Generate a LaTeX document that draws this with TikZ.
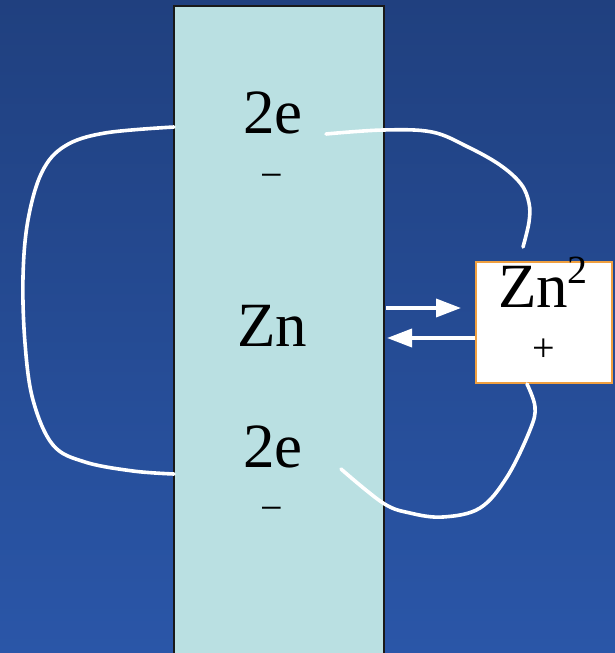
\documentclass[tikz,border=0pt]{standalone}
\usepackage{fontspec}
\setmainfont{Liberation Serif}
\usetikzlibrary{arrows.meta}
\definecolor{bgtop}{HTML}{20407F}
\definecolor{bgbot}{HTML}{2A56A8}
\definecolor{barfill}{HTML}{BAE0E2}
\definecolor{boxline}{HTML}{F0A040}
\tikzset{
  big/.style={inner sep=0pt, text=black, font=\fontsize{63}{70}\selectfont},
  sign/.style={inner sep=0pt, text=black, font=\fontsize{40}{44}\selectfont},
  wire/.style={draw=white, line width=3.6pt, line cap=round},
  flow/.style={draw=white, line width=3.6pt, -{Triangle[length=25pt,width=18pt]}},
}
\begin{document}
\begin{tikzpicture}[x=1pt,y=-1pt]
\shade[top color=bgtop, bottom color=bgbot] (0,0) rectangle (615,653);
\useasboundingbox (0,0) rectangle (615,653);
% zinc bar
\node[draw=black!90, line width=1.5pt, fill=barfill, minimum width=210pt, minimum height=660pt, inner sep=0pt] (bar) at (279,336) {};
% labels in bar
\node[big, anchor=base] (e1) at (273,133) {2e};
\node[sign] (m1) at (272,181) {−};
\node[big, anchor=base] (zn) at (272,346) {Zn};
\node[big, anchor=base] (e2) at (273,467) {2e};
\node[sign] (m2) at (272,514) {−};
% ion box
\node[draw=boxline, line width=1.6pt, fill=white, minimum width=136pt, minimum height=121pt, inner sep=0pt] (ion) at (544,322.5) {};
\node[big, anchor=base] (ionlbl) at (543,307) {Zn\raisebox{24pt}{\fontsize{40}{44}\selectfont 2}};
\node[sign] (plus) at (544,350) {+};
% arrows
\coordinate (a1s) at (386,308);
\coordinate (a1e) at (461,308);
\coordinate (a2s) at (ion.west |- 0,338);
\coordinate (a2e) at (387,338);
\draw[flow] (a1s) -- (a1e);
\draw[flow] (a2s) -- (a2e);
% electron loops
\draw[wire] plot[smooth, tension=0.6] coordinates {(174,127) (105,133) (65,146) (42,172) (28,220) (23,277) (25,343) (33,400) (53,445) (85,462) (133,471) (174,474)};
\draw[wire] plot[smooth, tension=0.6] coordinates {(326,134) (383,130) (432,132) (468,147) (500,165) (521,184) (529,203) (529,222) (523,247)};
\draw[wire] plot[smooth, tension=0.6] coordinates {(527,384) (535,407) (530,430) (507,477) (480,508) (443,517) (410,513) (383,503) (341,469)};
\end{tikzpicture}
\end{document}
